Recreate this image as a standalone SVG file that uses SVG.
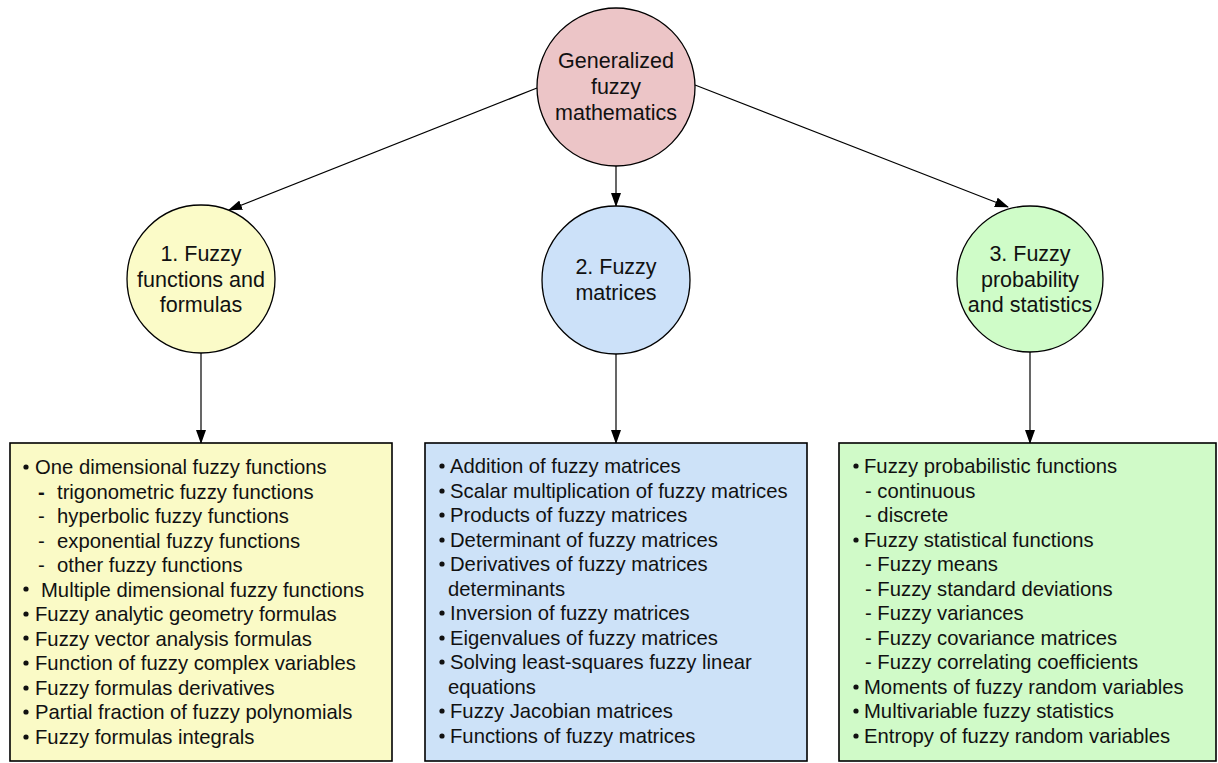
<svg xmlns="http://www.w3.org/2000/svg" width="1218" height="763" viewBox="0 0 1218 763">
<defs>
<marker id="ah" markerWidth="14" markerHeight="10" refX="13" refY="5" orient="auto" markerUnits="userSpaceOnUse">
<path d="M0,0 L14,5 L0,10 z" fill="#000"/>
</marker>
<style>
.c{stroke:#000;stroke-width:1.3}
.b{stroke:#000;stroke-width:1.6}
.ct{font-family:"Liberation Sans",Arial,sans-serif;font-size:21.5px;fill:#111;text-anchor:middle}
.bt{font-family:"Liberation Sans",Arial,sans-serif;font-size:20.25px;fill:#111}
.dot{fill:#111}
.conn{stroke:#000;stroke-width:1.2;fill:none;marker-end:url(#ah)}
</style>
</defs>
<rect width="1218" height="763" fill="#fff"/>
<g id="connectors">
<line class="conn" x1="537" y1="88" x2="229" y2="210"/>
<line class="conn" x1="616" y1="166" x2="616" y2="206"/>
<line class="conn" x1="695" y1="85" x2="1008" y2="207"/>
<line class="conn" x1="201" y1="353" x2="201" y2="443"/>
<line class="conn" x1="616" y1="354" x2="616" y2="443"/>
<line class="conn" x1="1030" y1="352" x2="1030" y2="443"/>
</g>
<g id="root">
<circle class="c" cx="616" cy="87" r="79" fill="#ECC5C7"/>
<text class="ct" x="616" y="68">Generalized</text>
<text class="ct" x="616" y="94">fuzzy</text>
<text class="ct" x="616" y="120">mathematics</text>
</g>
<g id="n1">
<circle class="c" cx="201" cy="279" r="74" fill="#FBFBC8"/>
<text class="ct" x="201" y="261">1. Fuzzy</text>
<text class="ct" x="201" y="287">functions and</text>
<text class="ct" x="201" y="312">formulas</text>
</g>
<g id="n2">
<circle class="c" cx="616" cy="280" r="74" fill="#CCE1F9"/>
<text class="ct" x="616" y="274">2. Fuzzy</text>
<text class="ct" x="616" y="300">matrices</text>
</g>
<g id="n3">
<circle class="c" cx="1030" cy="279" r="73" fill="#CFFCC8"/>
<text class="ct" x="1030" y="261">3. Fuzzy</text>
<text class="ct" x="1030" y="287">probability</text>
<text class="ct" x="1030" y="312">and statistics</text>
</g>
<g id="box1">
<rect class="b" x="10" y="443" width="382" height="318" fill="#FAFAC6"/>
<g class="dot">
<circle cx="26" cy="467" r="2.6"/>
<circle cx="26" cy="589" r="2.6"/>
<circle cx="26" cy="614" r="2.6"/>
<circle cx="26" cy="638" r="2.6"/>
<circle cx="26" cy="663" r="2.6"/>
<circle cx="26" cy="688" r="2.6"/>
<circle cx="26" cy="712" r="2.6"/>
<circle cx="26" cy="737" r="2.6"/>
</g>
<text class="bt" x="35" y="474">One dimensional fuzzy functions</text>
<text class="bt" x="38" y="499" font-weight="bold">-</text>
<text class="bt" x="57" y="499">trigonometric fuzzy functions</text>
<text class="bt" x="38" y="523">-</text>
<text class="bt" x="57" y="523">hyperbolic fuzzy functions</text>
<text class="bt" x="38" y="548">-</text>
<text class="bt" x="57" y="548">exponential fuzzy functions</text>
<text class="bt" x="38" y="572">-</text>
<text class="bt" x="57" y="572">other fuzzy functions</text>
<text class="bt" x="41" y="597">Multiple dimensional fuzzy functions</text>
<text class="bt" x="35" y="621">Fuzzy analytic geometry formulas</text>
<text class="bt" x="35" y="646">Fuzzy vector analysis formulas</text>
<text class="bt" x="35" y="670">Function of fuzzy complex variables</text>
<text class="bt" x="35" y="695">Fuzzy formulas derivatives</text>
<text class="bt" x="35" y="719">Partial fraction of fuzzy polynomials</text>
<text class="bt" x="35" y="744">Fuzzy formulas integrals</text>
</g>
<g id="box2">
<rect class="b" x="425" y="443" width="382" height="318" fill="#CDE2F8"/>
<g class="dot">
<circle cx="442" cy="466" r="2.6"/>
<circle cx="442" cy="491" r="2.6"/>
<circle cx="442" cy="515" r="2.6"/>
<circle cx="442" cy="540" r="2.6"/>
<circle cx="442" cy="564" r="2.6"/>
<circle cx="442" cy="613" r="2.6"/>
<circle cx="442" cy="638" r="2.6"/>
<circle cx="442" cy="662" r="2.6"/>
<circle cx="442" cy="711" r="2.6"/>
<circle cx="442" cy="736" r="2.6"/>
</g>
<text class="bt" x="450" y="473">Addition of fuzzy matrices</text>
<text class="bt" x="450" y="498">Scalar multiplication of fuzzy matrices</text>
<text class="bt" x="450" y="522">Products of fuzzy matrices</text>
<text class="bt" x="450" y="547">Determinant of fuzzy matrices</text>
<text class="bt" x="450" y="571">Derivatives of fuzzy matrices</text>
<text class="bt" x="448" y="596">determinants</text>
<text class="bt" x="450" y="620">Inversion of fuzzy matrices</text>
<text class="bt" x="450" y="645">Eigenvalues of fuzzy matrices</text>
<text class="bt" x="450" y="669">Solving least-squares fuzzy linear</text>
<text class="bt" x="448" y="694">equations</text>
<text class="bt" x="450" y="718">Fuzzy Jacobian matrices</text>
<text class="bt" x="450" y="743">Functions of fuzzy matrices</text>
</g>
<g id="box3">
<rect class="b" x="839" y="443" width="377" height="318" fill="#D0FAC8"/>
<g class="dot">
<circle cx="856" cy="466" r="2.6"/>
<circle cx="856" cy="540" r="2.6"/>
<circle cx="856" cy="687" r="2.6"/>
<circle cx="856" cy="711" r="2.6"/>
<circle cx="856" cy="736" r="2.6"/>
</g>
<text class="bt" x="864" y="473">Fuzzy probabilistic functions</text>
<text class="bt" x="865" y="498">- continuous</text>
<text class="bt" x="865" y="522">- discrete</text>
<text class="bt" x="864" y="547">Fuzzy statistical functions</text>
<text class="bt" x="865" y="571">- Fuzzy means</text>
<text class="bt" x="865" y="596">- Fuzzy standard deviations</text>
<text class="bt" x="865" y="620">- Fuzzy variances</text>
<text class="bt" x="865" y="645">- Fuzzy covariance matrices</text>
<text class="bt" x="865" y="669">- Fuzzy correlating coefficients</text>
<text class="bt" x="864" y="694">Moments of fuzzy random variables</text>
<text class="bt" x="864" y="718">Multivariable fuzzy statistics</text>
<text class="bt" x="864" y="743">Entropy of fuzzy random variables</text>
</g>
</svg>
